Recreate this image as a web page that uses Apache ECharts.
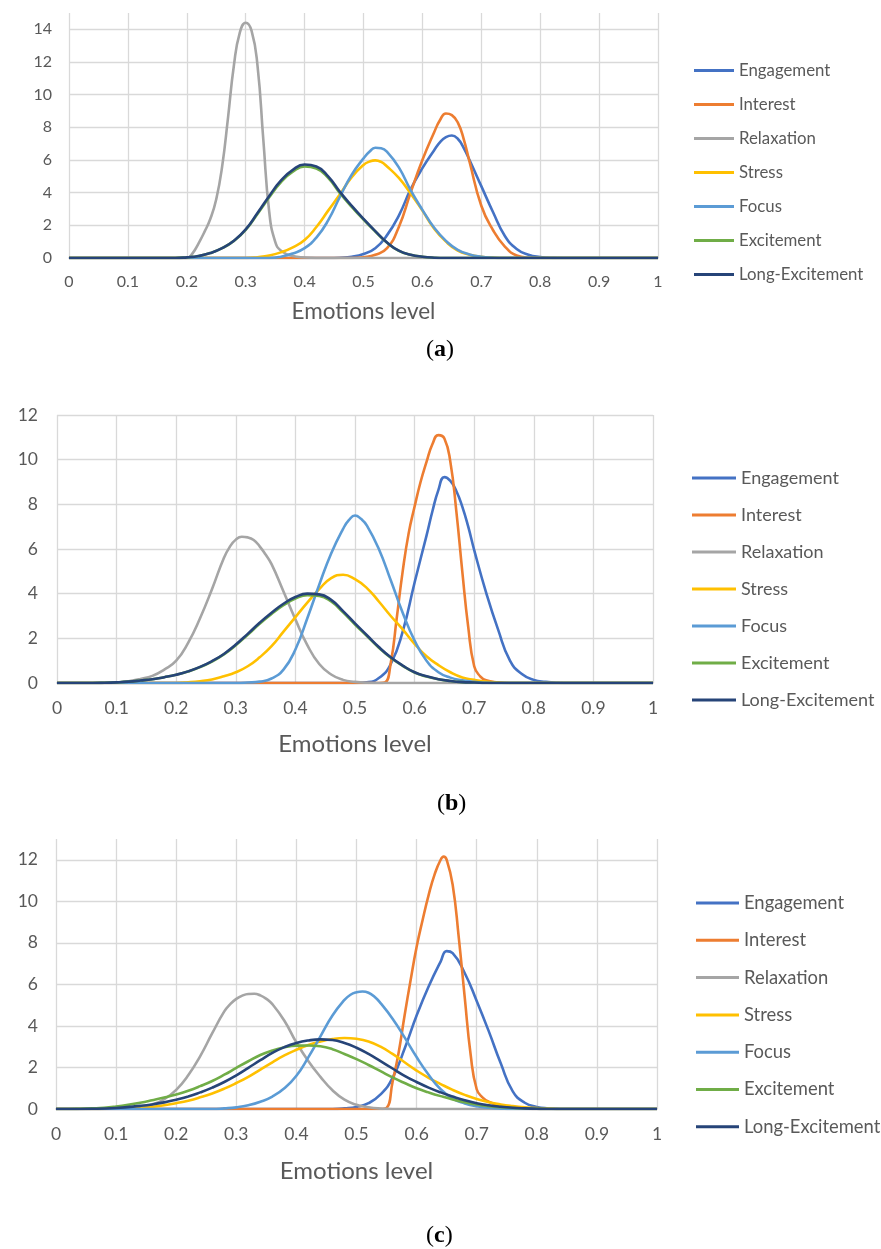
<!DOCTYPE html>
<html>
<head>
<meta charset="utf-8">
<script src="https://cdn.jsdelivr.net/npm/echarts@6/dist/echarts.min.js"></script>
<style>html,body{margin:0;padding:0;background:#fff}#c{width:881px;height:1249px}</style>
</head>
<body>
<div id="c"></div>
<script>
// ---------- DATA ----------
const seriesNames = ['Engagement', 'Interest', 'Relaxation', 'Stress', 'Focus', 'Excitement', 'Long-Excitement'];
const xTickValues = [0, 0.1, 0.2, 0.3, 0.4, 0.5, 0.6, 0.7, 0.8, 0.9, 1];
const axisTitle = 'Emotions level';
const panelLabels = ['a', 'b', 'c'];

// (a)
const engagementA = [[0,0],[0.44,0],[0.46,0.02],[0.48,0.08],[0.50,0.25],[0.52,0.6],[0.54,1.4],[0.56,2.6],[0.58,4.2],[0.60,5.5],[0.62,6.6],[0.63,7.1],[0.64,7.4],[0.65,7.5],[0.66,7.3],[0.67,6.75],[0.68,6.0],[0.70,4.4],[0.72,2.8],[0.74,1.35],[0.76,0.55],[0.78,0.2],[0.80,0.06],[0.82,0.01],[0.84,0],[1,0]];
const interestA = [[0,0],[0.48,0],[0.50,0.05],[0.52,0.2],[0.54,0.6],[0.56,1.9],[0.58,4.0],[0.60,6.0],[0.62,7.7],[0.63,8.45],[0.64,8.85],[0.65,8.75],[0.66,8.3],[0.67,7.3],[0.68,5.9],[0.70,3.2],[0.72,1.7],[0.74,0.7],[0.76,0.15],[0.78,0.02],[0.80,0],[1,0]];
const relaxationA = [[0,0],[0.20,0],[0.21,0.3],[0.22,0.9],[0.23,1.6],[0.24,2.4],[0.25,3.6],[0.26,5.6],[0.27,8.6],[0.28,11.8],[0.29,13.8],[0.30,14.4],[0.31,13.9],[0.32,11.8],[0.33,7.2],[0.34,2.8],[0.35,1.0],[0.36,0.45],[0.38,0.12],[0.40,0.03],[0.42,0],[1,0]];
const stressA = [[0,0],[0.30,0],[0.32,0.05],[0.34,0.15],[0.36,0.35],[0.38,0.65],[0.40,1.1],[0.42,1.9],[0.44,2.9],[0.46,3.9],[0.48,4.95],[0.50,5.7],[0.51,5.9],[0.52,5.98],[0.53,5.88],[0.54,5.6],[0.56,4.9],[0.58,3.95],[0.60,2.9],[0.62,1.8],[0.64,1.0],[0.66,0.45],[0.68,0.2],[0.70,0.07],[0.72,0.02],[0.74,0],[1,0]];
const focusA = [[0,0],[0.34,0],[0.36,0.08],[0.38,0.28],[0.40,0.6],[0.42,1.25],[0.44,2.3],[0.46,3.75],[0.48,5.1],[0.50,6.1],[0.51,6.5],[0.52,6.75],[0.53,6.72],[0.54,6.5],[0.56,5.55],[0.58,4.15],[0.60,2.95],[0.62,1.85],[0.64,1.05],[0.66,0.5],[0.68,0.22],[0.70,0.08],[0.72,0.02],[0.74,0],[1,0]];
const excitementA = [[0,0],[0.18,0],[0.20,0.04],[0.22,0.12],[0.24,0.3],[0.26,0.6],[0.28,1.05],[0.30,1.72],[0.32,2.7],[0.34,3.72],[0.36,4.65],[0.38,5.28],[0.40,5.6],[0.42,5.48],[0.44,4.9],[0.46,3.97],[0.48,3.13],[0.50,2.35],[0.52,1.62],[0.54,0.93],[0.56,0.44],[0.58,0.2],[0.60,0.08],[0.62,0.02],[0.64,0],[1,0]];
const longExcitementA = [[0,0],[0.18,0],[0.20,0.04],[0.22,0.12],[0.24,0.3],[0.26,0.6],[0.28,1.05],[0.30,1.75],[0.32,2.75],[0.34,3.8],[0.36,4.75],[0.38,5.4],[0.40,5.72],[0.42,5.6],[0.44,5.0],[0.46,4.05],[0.48,3.2],[0.50,2.4],[0.52,1.65],[0.54,0.95],[0.56,0.45],[0.58,0.2],[0.60,0.08],[0.62,0.02],[0.64,0],[1,0]];

// (b)
const engagementB = [[0,0],[0.50,0],[0.52,0.03],[0.54,0.22],[0.56,0.85],[0.58,2.3],[0.60,4.5],[0.62,6.6],[0.63,7.7],[0.64,8.65],[0.65,9.22],[0.66,9.05],[0.67,8.6],[0.68,7.9],[0.69,7.0],[0.70,5.95],[0.72,4.05],[0.74,2.4],[0.76,1.0],[0.78,0.4],[0.80,0.14],[0.82,0.05],[0.84,0.01],[0.86,0],[1,0]];
const interestB = [[0,0],[0.54,0],[0.55,0.02],[0.56,0.9],[0.57,2.9],[0.58,5.0],[0.59,6.7],[0.60,7.9],[0.61,9.0],[0.62,9.9],[0.63,10.7],[0.64,11.1],[0.65,10.95],[0.66,9.9],[0.67,7.7],[0.68,5.0],[0.69,2.5],[0.70,0.75],[0.71,0.3],[0.72,0.12],[0.74,0.03],[0.76,0],[1,0]];
const relaxationB = [[0,0],[0.08,0],[0.10,0.03],[0.12,0.08],[0.14,0.18],[0.16,0.32],[0.18,0.6],[0.20,1.0],[0.22,1.8],[0.24,2.9],[0.26,4.2],[0.28,5.6],[0.29,6.1],[0.30,6.42],[0.31,6.55],[0.32,6.52],[0.33,6.4],[0.34,6.12],[0.35,5.75],[0.36,5.32],[0.38,4.1],[0.40,2.85],[0.42,1.7],[0.44,0.85],[0.46,0.38],[0.48,0.14],[0.50,0.05],[0.52,0.01],[0.54,0],[1,0]];
const stressB = [[0,0],[0.20,0],[0.22,0.03],[0.24,0.08],[0.26,0.16],[0.28,0.3],[0.30,0.48],[0.32,0.75],[0.34,1.15],[0.36,1.65],[0.38,2.3],[0.40,2.95],[0.42,3.6],[0.44,4.2],[0.46,4.7],[0.48,4.85],[0.50,4.65],[0.52,4.25],[0.54,3.65],[0.56,3.0],[0.58,2.4],[0.60,1.75],[0.62,1.2],[0.64,0.8],[0.66,0.48],[0.68,0.25],[0.70,0.14],[0.72,0.06],[0.74,0.02],[0.76,0],[1,0]];
const focusB = [[0,0],[0.30,0],[0.32,0.02],[0.34,0.06],[0.36,0.2],[0.38,0.6],[0.40,1.5],[0.42,2.9],[0.44,4.4],[0.46,5.8],[0.48,6.9],[0.49,7.3],[0.50,7.5],[0.51,7.35],[0.52,7.05],[0.54,6.0],[0.56,4.6],[0.58,3.15],[0.60,1.9],[0.62,1.0],[0.64,0.48],[0.66,0.24],[0.68,0.12],[0.70,0.05],[0.72,0.01],[0.74,0],[1,0]];
const excitementB = [[0,0],[0.06,0],[0.08,0.01],[0.10,0.03],[0.12,0.06],[0.14,0.11],[0.16,0.17],[0.18,0.26],[0.20,0.37],[0.22,0.52],[0.24,0.71],[0.26,0.96],[0.28,1.28],[0.30,1.69],[0.32,2.16],[0.34,2.65],[0.36,3.09],[0.38,3.48],[0.40,3.78],[0.42,3.93],[0.44,3.9],[0.46,3.65],[0.48,3.16],[0.50,2.62],[0.52,2.1],[0.54,1.58],[0.56,1.13],[0.58,0.77],[0.60,0.47],[0.62,0.29],[0.64,0.17],[0.66,0.09],[0.68,0.04],[0.70,0.02],[0.72,0],[1,0]];
const longExcitementB = [[0,0],[0.06,0],[0.08,0.01],[0.10,0.03],[0.12,0.06],[0.14,0.11],[0.16,0.17],[0.18,0.26],[0.20,0.37],[0.22,0.52],[0.24,0.72],[0.26,0.98],[0.28,1.3],[0.30,1.72],[0.32,2.2],[0.34,2.7],[0.36,3.15],[0.38,3.55],[0.40,3.85],[0.42,4.0],[0.44,3.97],[0.46,3.72],[0.48,3.22],[0.50,2.67],[0.52,2.14],[0.54,1.61],[0.56,1.15],[0.58,0.78],[0.60,0.48],[0.62,0.3],[0.64,0.17],[0.66,0.09],[0.68,0.04],[0.70,0.02],[0.72,0],[1,0]];

// (c)
const engagementC = [[0,0],[0.46,0],[0.48,0.03],[0.50,0.1],[0.52,0.28],[0.54,0.7],[0.56,1.5],[0.58,2.9],[0.60,4.5],[0.62,5.9],[0.64,7.1],[0.65,7.6],[0.66,7.5],[0.68,6.55],[0.70,5.2],[0.72,3.75],[0.74,2.2],[0.76,0.85],[0.78,0.3],[0.80,0.1],[0.82,0.03],[0.84,0],[1,0]];
const interestC = [[0,0],[0.54,0],[0.55,0.05],[0.56,1.3],[0.57,2.7],[0.58,4.5],[0.59,6.2],[0.60,7.8],[0.61,9.1],[0.62,10.3],[0.63,11.3],[0.64,12.0],[0.645,12.15],[0.65,12.0],[0.66,10.8],[0.67,8.3],[0.68,5.4],[0.69,2.6],[0.70,0.95],[0.71,0.55],[0.72,0.35],[0.74,0.17],[0.76,0.06],[0.78,0.02],[0.80,0],[1,0]];
const relaxationC = [[0,0],[0.06,0],[0.08,0.01],[0.10,0.02],[0.12,0.05],[0.14,0.1],[0.16,0.22],[0.18,0.47],[0.20,0.92],[0.22,1.62],[0.24,2.55],[0.26,3.65],[0.28,4.7],[0.29,5.05],[0.30,5.3],[0.31,5.46],[0.32,5.54],[0.33,5.55],[0.34,5.47],[0.35,5.3],[0.36,5.05],[0.38,4.25],[0.40,3.2],[0.42,2.3],[0.44,1.55],[0.46,0.9],[0.48,0.45],[0.50,0.2],[0.52,0.08],[0.54,0.02],[0.56,0],[1,0]];
const stressC = [[0,0],[0.06,0],[0.10,0.02],[0.14,0.06],[0.16,0.1],[0.18,0.18],[0.20,0.28],[0.22,0.4],[0.24,0.56],[0.26,0.75],[0.28,0.98],[0.30,1.25],[0.32,1.55],[0.34,1.9],[0.36,2.25],[0.38,2.58],[0.40,2.85],[0.42,3.08],[0.44,3.25],[0.46,3.37],[0.48,3.42],[0.50,3.38],[0.52,3.25],[0.54,3.0],[0.56,2.65],[0.58,2.25],[0.60,1.85],[0.62,1.5],[0.64,1.2],[0.66,0.92],[0.68,0.68],[0.70,0.48],[0.72,0.33],[0.74,0.22],[0.76,0.14],[0.78,0.08],[0.80,0.04],[0.82,0.02],[0.84,0],[1,0]];
const focusC = [[0,0],[0.26,0],[0.28,0.03],[0.30,0.08],[0.32,0.18],[0.34,0.35],[0.36,0.6],[0.38,1.0],[0.40,1.6],[0.42,2.5],[0.44,3.5],[0.46,4.5],[0.48,5.25],[0.49,5.5],[0.50,5.62],[0.51,5.66],[0.52,5.6],[0.53,5.4],[0.54,5.1],[0.56,4.35],[0.58,3.45],[0.60,2.5],[0.62,1.65],[0.64,0.95],[0.66,0.5],[0.68,0.27],[0.70,0.13],[0.72,0.06],[0.74,0.02],[0.76,0],[1,0]];
const excitementC = [[0,0],[0.02,0],[0.04,0.01],[0.06,0.03],[0.08,0.06],[0.10,0.12],[0.12,0.2],[0.14,0.3],[0.16,0.42],[0.18,0.55],[0.20,0.7],[0.22,0.88],[0.24,1.1],[0.26,1.35],[0.28,1.65],[0.30,1.98],[0.32,2.3],[0.34,2.6],[0.36,2.82],[0.38,2.97],[0.40,3.05],[0.42,3.06],[0.44,3.02],[0.46,2.88],[0.48,2.65],[0.50,2.4],[0.52,2.12],[0.54,1.82],[0.56,1.52],[0.58,1.25],[0.60,1.0],[0.62,0.8],[0.64,0.62],[0.66,0.46],[0.68,0.33],[0.70,0.22],[0.72,0.14],[0.74,0.09],[0.76,0.05],[0.78,0.03],[0.80,0.01],[0.82,0],[1,0]];
const longExcitementC = [[0,0],[0.02,0],[0.06,0.01],[0.10,0.05],[0.14,0.15],[0.16,0.22],[0.18,0.32],[0.20,0.45],[0.22,0.6],[0.24,0.8],[0.26,1.03],[0.28,1.3],[0.30,1.62],[0.32,1.98],[0.34,2.35],[0.36,2.7],[0.38,2.98],[0.40,3.18],[0.42,3.3],[0.44,3.35],[0.46,3.32],[0.48,3.18],[0.50,2.95],[0.52,2.65],[0.54,2.3],[0.56,1.95],[0.58,1.6],[0.60,1.3],[0.62,1.03],[0.64,0.8],[0.66,0.6],[0.68,0.42],[0.70,0.28],[0.72,0.18],[0.74,0.11],[0.76,0.06],[0.78,0.03],[0.80,0.01],[0.82,0],[1,0]];

const panelSeries = [
  [engagementA, interestA, relaxationA, stressA, focusA, excitementA, longExcitementA],
  [engagementB, interestB, relaxationB, stressB, focusB, excitementB, longExcitementB],
  [engagementC, interestC, relaxationC, stressC, focusC, excitementC, longExcitementC]
];
const yMaxes = [15, 12, 13];
const yInterval = 2;

// ---------- STYLE / LAYOUT ----------
const colors = ['#4472C4', '#ED7D31', '#A5A5A5', '#FFC000', '#5B9BD5', '#70AD47', '#264478'];
const FONT = 'Lato';
const layouts = [
  { grid: {left: 69, top: 13, width: 589, height: 245}, tickFont: 16, labelMargin: 16, yLabelMargin: 17, nameFont: 22.5, nameGap: 42,
    legend: {left: 694, top: 62, itemWidth: 40, itemGap: 17, fontSize: 16.8}, title: {left: 426, top: 338} },
  { grid: {left: 57, top: 415, width: 596, height: 268}, tickFont: 17.5, labelMargin: 16, yLabelMargin: 19, nameFont: 24, nameGap: 49,
    legend: {left: 692, top: 469, itemWidth: 44, itemGap: 19, fontSize: 18}, title: {left: 437, top: 792} },
  { grid: {left: 56, top: 839, width: 601, height: 270}, tickFont: 17.5, labelMargin: 16, yLabelMargin: 18, nameFont: 24, nameGap: 50,
    legend: {left: 696, top: 894, itemWidth: 43, itemGap: 19.3, fontSize: 18.4}, title: {left: 426, top: 1224} }
];

const option = {
  animation: false,
  color: colors,
  grid: [], xAxis: [], yAxis: [], legend: [], title: [], series: []
};

layouts.forEach((L, p) => {
  option.grid.push(Object.assign({containLabel: false}, L.grid));
  option.xAxis.push({
    type: 'value', gridIndex: p, min: 0, max: 1, interval: 0.1,
    name: axisTitle, nameLocation: 'middle', nameGap: L.nameGap,
    nameTextStyle: {fontFamily: FONT, fontSize: L.nameFont, color: '#595959', lineHeight: L.nameFont},
    axisLine: {show: true, onZero: true, lineStyle: {color: '#bfbfbf', width: 1.5}},
    axisTick: {show: false},
    axisLabel: {fontFamily: FONT, fontSize: L.tickFont, color: '#595959', margin: L.labelMargin,
      formatter: v => { const t = xTickValues.find(x => Math.abs(x - v) < 1e-9); return t === undefined ? '' : String(t); }},
    splitLine: {show: true, lineStyle: {color: '#d9d9d9', width: 1.3}}
  });
  option.yAxis.push({
    type: 'value', gridIndex: p, min: 0, max: yMaxes[p], interval: yInterval,
    axisLine: {show: false}, axisTick: {show: false},
    axisLabel: {fontFamily: FONT, fontSize: L.tickFont, color: '#595959', margin: L.yLabelMargin, showMaxLabel: yMaxes[p] % yInterval === 0},
    splitLine: {show: true, showMaxLine: yMaxes[p] % yInterval === 0, lineStyle: {color: '#d9d9d9', width: 1.3}}
  });
  option.legend.push({
    orient: 'vertical', left: L.legend.left, top: L.legend.top, padding: 0,
    icon: 'rect', itemWidth: L.legend.itemWidth, itemHeight: 3, itemGap: L.legend.itemGap,
    selectedMode: false,
    textStyle: {fontFamily: FONT, fontSize: L.legend.fontSize, color: '#595959', lineHeight: 16, padding: [0, 0, 0, 0]},
    data: seriesNames.slice()
  });
  option.title.push({
    text: '({b|' + panelLabels[p] + '})', left: L.title.left, top: L.title.top, padding: 0,
    textStyle: {fontFamily: 'Liberation Serif', fontSize: 24, fontWeight: 'normal', color: '#000',
      rich: {b: {fontFamily: 'Liberation Serif', fontSize: 24, fontWeight: 'bold', color: '#000'}}}
  });
  panelSeries[p].forEach((d, k) => {
    option.series.push({
      name: seriesNames[k], type: 'line', xAxisIndex: p, yAxisIndex: p,
      data: d, smooth: 0.5, showSymbol: false, symbol: 'none',
      lineStyle: {width: 2.6, color: colors[k]}, itemStyle: {color: colors[k]},
      emphasis: {disabled: true}, z: 2 + k * 0.01
    });
  });
});

const chart = echarts.init(document.getElementById('c'), null, {renderer: 'canvas'});
chart.setOption(option);
</script>
</body>
</html>
